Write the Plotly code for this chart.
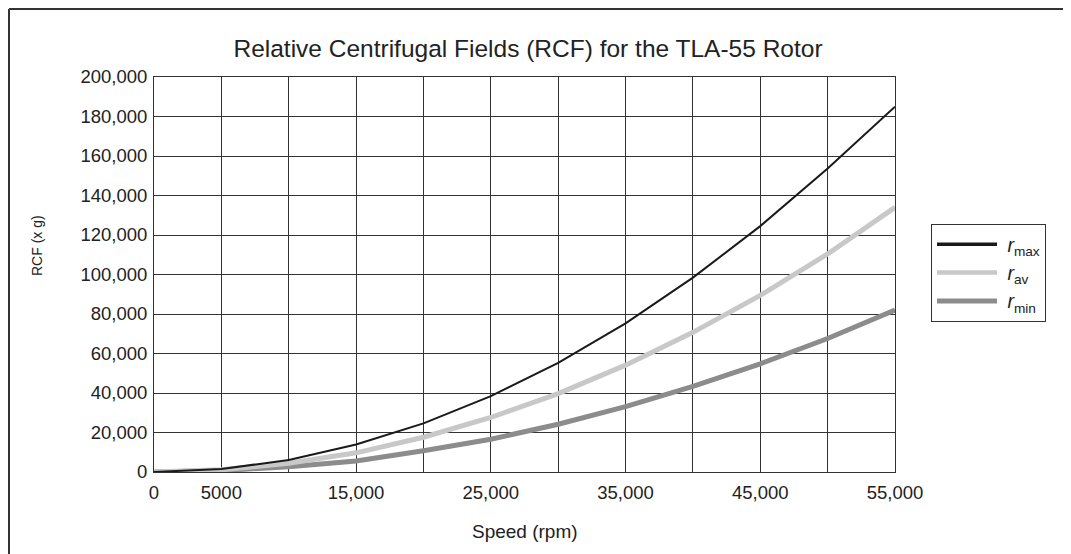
import plotly.graph_objects as go

speed = [0, 5000, 10000, 15000, 20000, 25000, 30000, 35000, 40000, 45000, 50000, 55000]
rcf_max = [0, 1500, 6100, 13900, 24600, 38400, 55300, 75300, 98400, 124500, 153700, 185000]
rcf_av = [0, 1100, 4400, 9700, 17600, 27600, 39700, 54100, 70700, 89400, 110400, 134000]
rcf_min = [0, 700, 2700, 5600, 10800, 16600, 24200, 33100, 43300, 54800, 67600, 82000]

x_tickvals = [0, 5000, 10000, 15000, 20000, 25000, 30000, 35000, 40000, 45000, 50000, 55000]
x_ticktext = ["0", "5000", "", "15,000", "", "25,000", "", "35,000", "", "45,000", "", "55,000"]
y_tickvals = [0, 20000, 40000, 60000, 80000, 100000, 120000, 140000, 160000, 180000, 200000]
y_ticktext = ["0", "20,000", "40,000", "60,000", "80,000", "100,000", "120,000",
              "140,000", "160,000", "180,000", "200,000"]

FONT = "Liberation Sans, Arial, sans-serif"
TXT = "#222222"

fig = go.Figure()
fig.add_trace(go.Scatter(x=speed, y=rcf_min, mode="lines", name="<i>r</i><sub>min</sub>",
                         line=dict(color="#8c8c8c", width=5), showlegend=False))
fig.add_trace(go.Scatter(x=speed, y=rcf_av, mode="lines", name="<i>r</i><sub>av</sub>",
                         line=dict(color="#c8c8c8", width=5), showlegend=False))
fig.add_trace(go.Scatter(x=speed, y=rcf_max, mode="lines", name="<i>r</i><sub>max</sub>",
                         line=dict(color="#1a1a1a", width=2), showlegend=False))

# legend entries
fig.add_trace(go.Scatter(x=[None], y=[None], mode="lines", name="&nbsp;<i>r</i><sub>max</sub>",
                         line=dict(color="#1a1a1a", width=3.5)))
fig.add_trace(go.Scatter(x=[None], y=[None], mode="lines", name="&nbsp;<i>r</i><sub>av</sub>",
                         line=dict(color="#c8c8c8", width=4.5)))
fig.add_trace(go.Scatter(x=[None], y=[None], mode="lines", name="&nbsp;<i>r</i><sub>min</sub>",
                         line=dict(color="#8c8c8c", width=5)))

# figure is offset by the page's 8px body margin
W, H = 1063, 546
L, T = 146, 69
PR, PB = 887, 464
R, B = W - PR, H - PB
pw, ph = PR - L, PB - T

def px_x(p):
    return (p - L) / pw

def px_y(p):
    return (PB - p) / ph

fig.update_layout(
    width=W, height=H,
    margin=dict(l=L, r=R, t=T, b=B),
    paper_bgcolor="white", plot_bgcolor="white",
    font=dict(family=FONT, color=TXT),
    title=dict(text="Relative Centrifugal Fields (RCF) for the TLA-55 Rotor",
               x=(521.5 - 1.5) / W, xanchor="center",
               y=1 - 40 / H, yanchor="middle",
               font=dict(size=24.5, color=TXT)),
    xaxis=dict(range=[0, 55000], tickvals=x_tickvals, ticktext=x_ticktext,
               showgrid=True, gridcolor="#333333", gridwidth=1,
               showline=True, linecolor="#333333", linewidth=1, mirror=True,
               ticks="", zeroline=False, tickfont=dict(size=18.5),
               ticklabelstandoff=4),
    yaxis=dict(range=[0, 200000], tickvals=y_tickvals, ticktext=y_ticktext,
               showgrid=True, gridcolor="#333333", gridwidth=1,
               showline=True, linecolor="#333333", linewidth=1, mirror=True,
               ticks="", zeroline=False, tickfont=dict(size=18.5),
               ticklabelstandoff=2),
    legend=dict(x=px_x(923), y=px_y(216), xanchor="left", yanchor="top",
                bordercolor="#333333", borderwidth=1, bgcolor="white",
                font=dict(size=19.5, color=TXT), itemwidth=60,
                traceorder="normal"),
    annotations=[
        dict(text="Speed (rpm)", xref="paper", yref="paper",
             x=0.5, y=px_y(523), xanchor="center", yanchor="middle",
             showarrow=False, font=dict(size=19, color=TXT)),
        dict(text="RCF (x g)", xref="paper", yref="paper", textangle=-90,
             x=px_x(29), y=px_y(238), xanchor="center", yanchor="middle",
             showarrow=False, font=dict(size=14, color=TXT)),
    ],
    shapes=[
        dict(type="line", xref="paper", yref="paper",
             x0=px_x(1), y0=px_y(1), x1=px_x(W + 20), y1=px_y(1),
             line=dict(color="#333333", width=2)),
        dict(type="line", xref="paper", yref="paper",
             x0=px_x(1), y0=px_y(1), x1=px_x(1), y1=px_y(H + 20),
             line=dict(color="#333333", width=2)),
    ],
)

fig.write_html("out.html")
